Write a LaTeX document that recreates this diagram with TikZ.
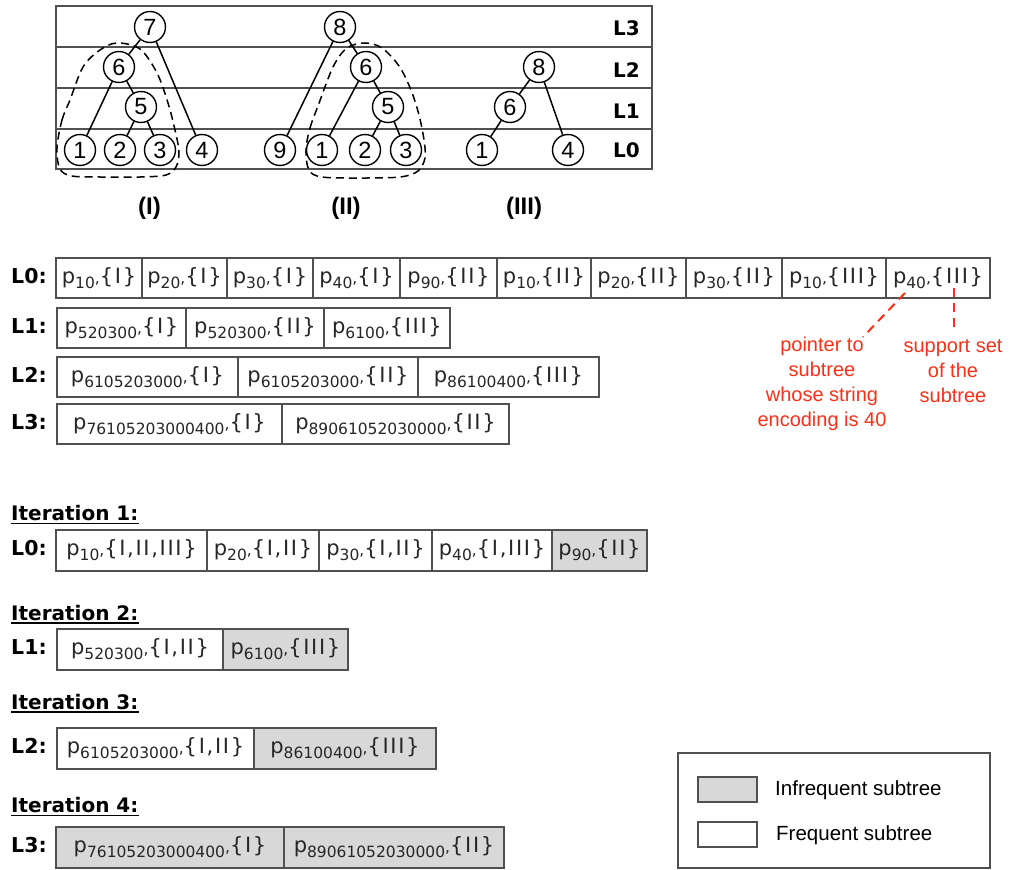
\documentclass[tikz,border=0pt]{standalone}
\usepackage{fontspec}
\setmainfont{DejaVu Sans}
\newfontfamily\helv{Liberation Sans}
\newfontfamily\setfam[LetterSpace=8]{DejaVu Sans}
\definecolor{annored}{RGB}{250,48,22}
\definecolor{cellgray}{RGB}{216,216,216}
\definecolor{rulecol}{RGB}{80,80,80}
% subscript of a pointer, its comma, and a full cell entry p_{code},{set}
\newcommand\sbs[1]{\raisebox{-5pt}{\fontsize{15.5}{15.5}\selectfont #1}}
\newcommand\subcomma{{\fontsize{15.5}{15.5}\selectfont,}}
\newcommand\pcell[2]{p\sbs{#1}\subcomma{\setfam\{#2\}}}
% one cell: name, x-left, x-right, y-top, y-bottom, fill style, text
\newcommand\mkcell[7]{\node[cellbase,#6,minimum width={#3-#2},minimum height={#5-#4}] (#1) at ({(#2+#3)/2},{(#4+#5)/2}) {#7};}
\begin{document}
\begin{tikzpicture}[x=1pt,y=-1pt,
  lvlrule/.style={draw=rulecol,line width=1.5pt},
  tnode/.style={circle,draw=black,line width=1.4pt,fill=white,minimum size=31pt,inner sep=0pt,font=\helv\fontsize{23.5}{23.5}\selectfont},
  branch/.style={line width=1.5pt},
  hull/.style={line width=1.5pt,dash pattern=on 8pt off 5pt},
  lvltag/.style={anchor=base east,inner sep=0pt,font=\bfseries\fontsize{20}{20}\selectfont},
  treetag/.style={inner sep=0pt,font=\helv\bfseries\fontsize{24}{24}\selectfont},
  cellbase/.style={draw=rulecol,line width=1.3pt,inner sep=0pt,text height=15pt,text depth=5pt,font=\fontsize{21}{21}\selectfont,text=black!85},
  rare/.style={fill=cellgray},
  common/.style={fill=white},
  rowtag/.style={anchor=base west,inner sep=0pt,font=\bfseries\fontsize{20.5}{20.5}\selectfont},
  itertag/.style={anchor=base west,inner sep=0pt,font=\bfseries\fontsize{20}{20}\selectfont},
  uline/.style={line width=1.6pt},
  note/.style={text=annored,align=center,inner sep=0pt,font=\helv\fontsize{20}{25}\selectfont},
  notelink/.style={draw=annored,line width=2pt,dash pattern=on 9pt off 6pt},
  legtext/.style={anchor=west,inner sep=0pt,font=\helv\fontsize{20.5}{20.5}\selectfont}
]
\useasboundingbox (0,0) rectangle (1012,870);

% ---- level table behind the three trees ----
\node[draw=rulecol,line width=1.5pt,minimum width=596,minimum height=163,inner sep=0pt] (table) at (354,87.5) {};
\draw[lvlrule] (56,47) -- (652,47);
\draw[lvlrule] (56,88) -- (652,88);
\draw[lvlrule] (56,129) -- (652,129);
\node[lvltag] (tL3) at (640,35) {L3};
\node[lvltag] (tL2) at (640,77) {L2};
\node[lvltag] (tL1) at (640,118) {L1};
\node[lvltag] (tL0) at (640,157) {L0};

% ---- dashed hulls of the shared subtree ----
\draw[hull] plot[smooth cycle,tension=0.55] coordinates {(57,148) (62,120) (70,100) (83,67) (100,50) (117,43) (140,49) (157,73) (168,103) (175,130) (179,152) (176,167) (166,175) (140,177) (100,177) (72,176) (60,169)};
\draw[hull] plot[smooth cycle,tension=0.55] coordinates {(306,150) (310,128) (318,106) (333,67) (347,48) (365,43) (382,48) (399,66) (411,90) (419,115) (424,140) (425,158) (418,171) (400,177) (360,178) (322,177) (309,170)};

% ---- tree (I) ----
\node[tnode] (a7) at (150,27) {7};
\node[tnode] (a6) at (119,67) {6};
\node[tnode] (a5) at (141,107) {5};
\node[tnode] (a1) at (80,150) {1};
\node[tnode] (a2) at (120,150) {2};
\node[tnode] (a3) at (160,150) {3};
\node[tnode] (a4) at (202,150) {4};
\draw[branch] (a7) -- (a6);
\draw[branch] (a7) -- (a4);
\draw[branch] (a6) -- (a1);
\draw[branch] (a6) -- (a5);
\draw[branch] (a5) -- (a2);
\draw[branch] (a5) -- (a3);

% ---- tree (II) ----
\node[tnode] (b8) at (340,27) {8};
\node[tnode] (b6) at (366,67) {6};
\node[tnode] (b5) at (388,107) {5};
\node[tnode] (b9) at (280,150) {9};
\node[tnode] (b1) at (322,150) {1};
\node[tnode] (b2) at (365,150) {2};
\node[tnode] (b3) at (406,150) {3};
\draw[branch] (b8) -- (b9);
\draw[branch] (b8) -- (b6);
\draw[branch] (b6) -- (b1);
\draw[branch] (b6) -- (b5);
\draw[branch] (b5) -- (b2);
\draw[branch] (b5) -- (b3);

% ---- tree (III) ----
\node[tnode] (c8) at (539,67) {8};
\node[tnode] (c6) at (510,107) {6};
\node[tnode] (c1) at (482,150) {1};
\node[tnode] (c4) at (568,150) {4};
\draw[branch] (c8) -- (c6);
\draw[branch] (c8) -- (c4);
\draw[branch] (c6) -- (c1);

\node[treetag] (tagI) at (149.5,208.5) {(I)};
\node[treetag] (tagII) at (346,208.5) {(II)};
\node[treetag] (tagIII) at (524,208.5) {(III)};

% ---- per-level lists ----
\node[rowtag] (lab0) at (11,283) {L0:};
\mkcell{r0a}{56}{142}{258}{298}{common}{\pcell{10}{I}}
\mkcell{r0b}{142}{227}{258}{298}{common}{\pcell{20}{I}}
\mkcell{r0c}{227}{313}{258}{298}{common}{\pcell{30}{I}}
\mkcell{r0d}{313}{400}{258}{298}{common}{\pcell{40}{I}}
\mkcell{r0e}{400}{497}{258}{298}{common}{\pcell{90}{II}}
\mkcell{r0f}{497}{591}{258}{298}{common}{\pcell{10}{II}}
\mkcell{r0g}{591}{686}{258}{298}{common}{\pcell{20}{II}}
\mkcell{r0h}{686}{782}{258}{298}{common}{\pcell{30}{II}}
\mkcell{r0i}{782}{886}{258}{298}{common}{\pcell{10}{III}}
\mkcell{r0j}{886}{990}{258}{298}{common}{\pcell{40}{III}}

\node[rowtag] (lab1) at (11,333) {L1:};
\mkcell{r1a}{57}{186}{308}{348}{common}{\pcell{520300}{I}}
\mkcell{r1b}{186}{324}{308}{348}{common}{\pcell{520300}{II}}
\mkcell{r1c}{324}{450}{308}{348}{common}{\pcell{6100}{III}}

\node[rowtag] (lab2) at (11,382) {L2:};
\mkcell{r2a}{57}{238}{357}{397}{common}{\pcell{6105203000}{I}}
\mkcell{r2b}{238}{418}{357}{397}{common}{\pcell{6105203000}{II}}
\mkcell{r2c}{418}{599}{357}{397}{common}{\pcell{86100400}{III}}

\node[rowtag] (lab3) at (11,429) {L3:};
\mkcell{r3a}{57}{282}{404}{444}{common}{\pcell{76105203000400}{I}}
\mkcell{r3b}{282}{509}{404}{444}{common}{\pcell{89061052030000}{II}}

% ---- notes on the last entry ----
\node[note] (ptrnote) at (822,383.5) {pointer to\\subtree\\whose string\\encoding is 40};
\node[note] (supnote) at (953,371) {support set\\of the\\subtree};
\coordinate (ptrfrom) at (905,293);
\coordinate (ptrto) at (863,337);
\coordinate (supfrom) at (954,288);
\coordinate (supto) at (954,332);
\draw[notelink] (ptrfrom) -- (ptrto);
\draw[notelink] (supfrom) -- (supto);

% ---- iterations ----
\node[itertag] (it1) at (11,520.5) {Iteration 1:};
\draw[uline] ([yshift=-3pt]it1.base west) -- ([yshift=-3pt]it1.base east);
\node[rowtag] (ilab0) at (11,555.5) {L0:};
\mkcell{i1a}{56}{207}{530}{571}{common}{\pcell{10}{I,II,III}}
\mkcell{i1b}{207}{319}{530}{571}{common}{\pcell{20}{I,II}}
\mkcell{i1c}{319}{432}{530}{571}{common}{\pcell{30}{I,II}}
\mkcell{i1d}{432}{552}{530}{571}{common}{\pcell{40}{I,III}}
\mkcell{i1e}{552}{647}{530}{571}{rare}{\pcell{90}{II}}

\node[itertag] (it2) at (11,620) {Iteration 2:};
\draw[uline] ([yshift=-3pt]it2.base west) -- ([yshift=-3pt]it2.base east);
\node[rowtag] (ilab1) at (11,654.5) {L1:};
\mkcell{i2a}{57}{223}{629}{670}{common}{\pcell{520300}{I,II}}
\mkcell{i2b}{223}{348}{629}{670}{rare}{\pcell{6100}{III}}

\node[itertag] (it3) at (11,709) {Iteration 3:};
\draw[uline] ([yshift=-3pt]it3.base west) -- ([yshift=-3pt]it3.base east);
\node[rowtag] (ilab2) at (11,753.5) {L2:};
\mkcell{i3a}{57}{254}{728}{769}{common}{\pcell{6105203000}{I,II}}
\mkcell{i3b}{254}{436}{728}{769}{rare}{\pcell{86100400}{III}}

\node[itertag] (it4) at (11,812.5) {Iteration 4:};
\draw[uline] ([yshift=-3pt]it4.base west) -- ([yshift=-3pt]it4.base east);
\node[rowtag] (ilab3) at (11,852.5) {L3:};
\mkcell{i4a}{56}{284}{827}{868}{rare}{\pcell{76105203000400}{I}}
\mkcell{i4b}{284}{504}{827}{868}{rare}{\pcell{89061052030000}{II}}

% ---- legend ----
\node[draw=rulecol,line width=1.3pt,minimum width=312,minimum height=115,inner sep=0pt] (legend) at (834,810.5) {};
\node[draw=rulecol,line width=1.3pt,fill=cellgray,minimum width=59,minimum height=25,inner sep=0pt] (swrare) at (727.5,789.5) {};
\node[draw=rulecol,line width=1.3pt,fill=white,minimum width=59,minimum height=25,inner sep=0pt] (swcommon) at (727.5,834.5) {};
\node[legtext] (legrare) at (775,790) {Infrequent subtree};
\node[legtext] (legcommon) at (776,835) {Frequent subtree};
\end{tikzpicture}
\end{document}
